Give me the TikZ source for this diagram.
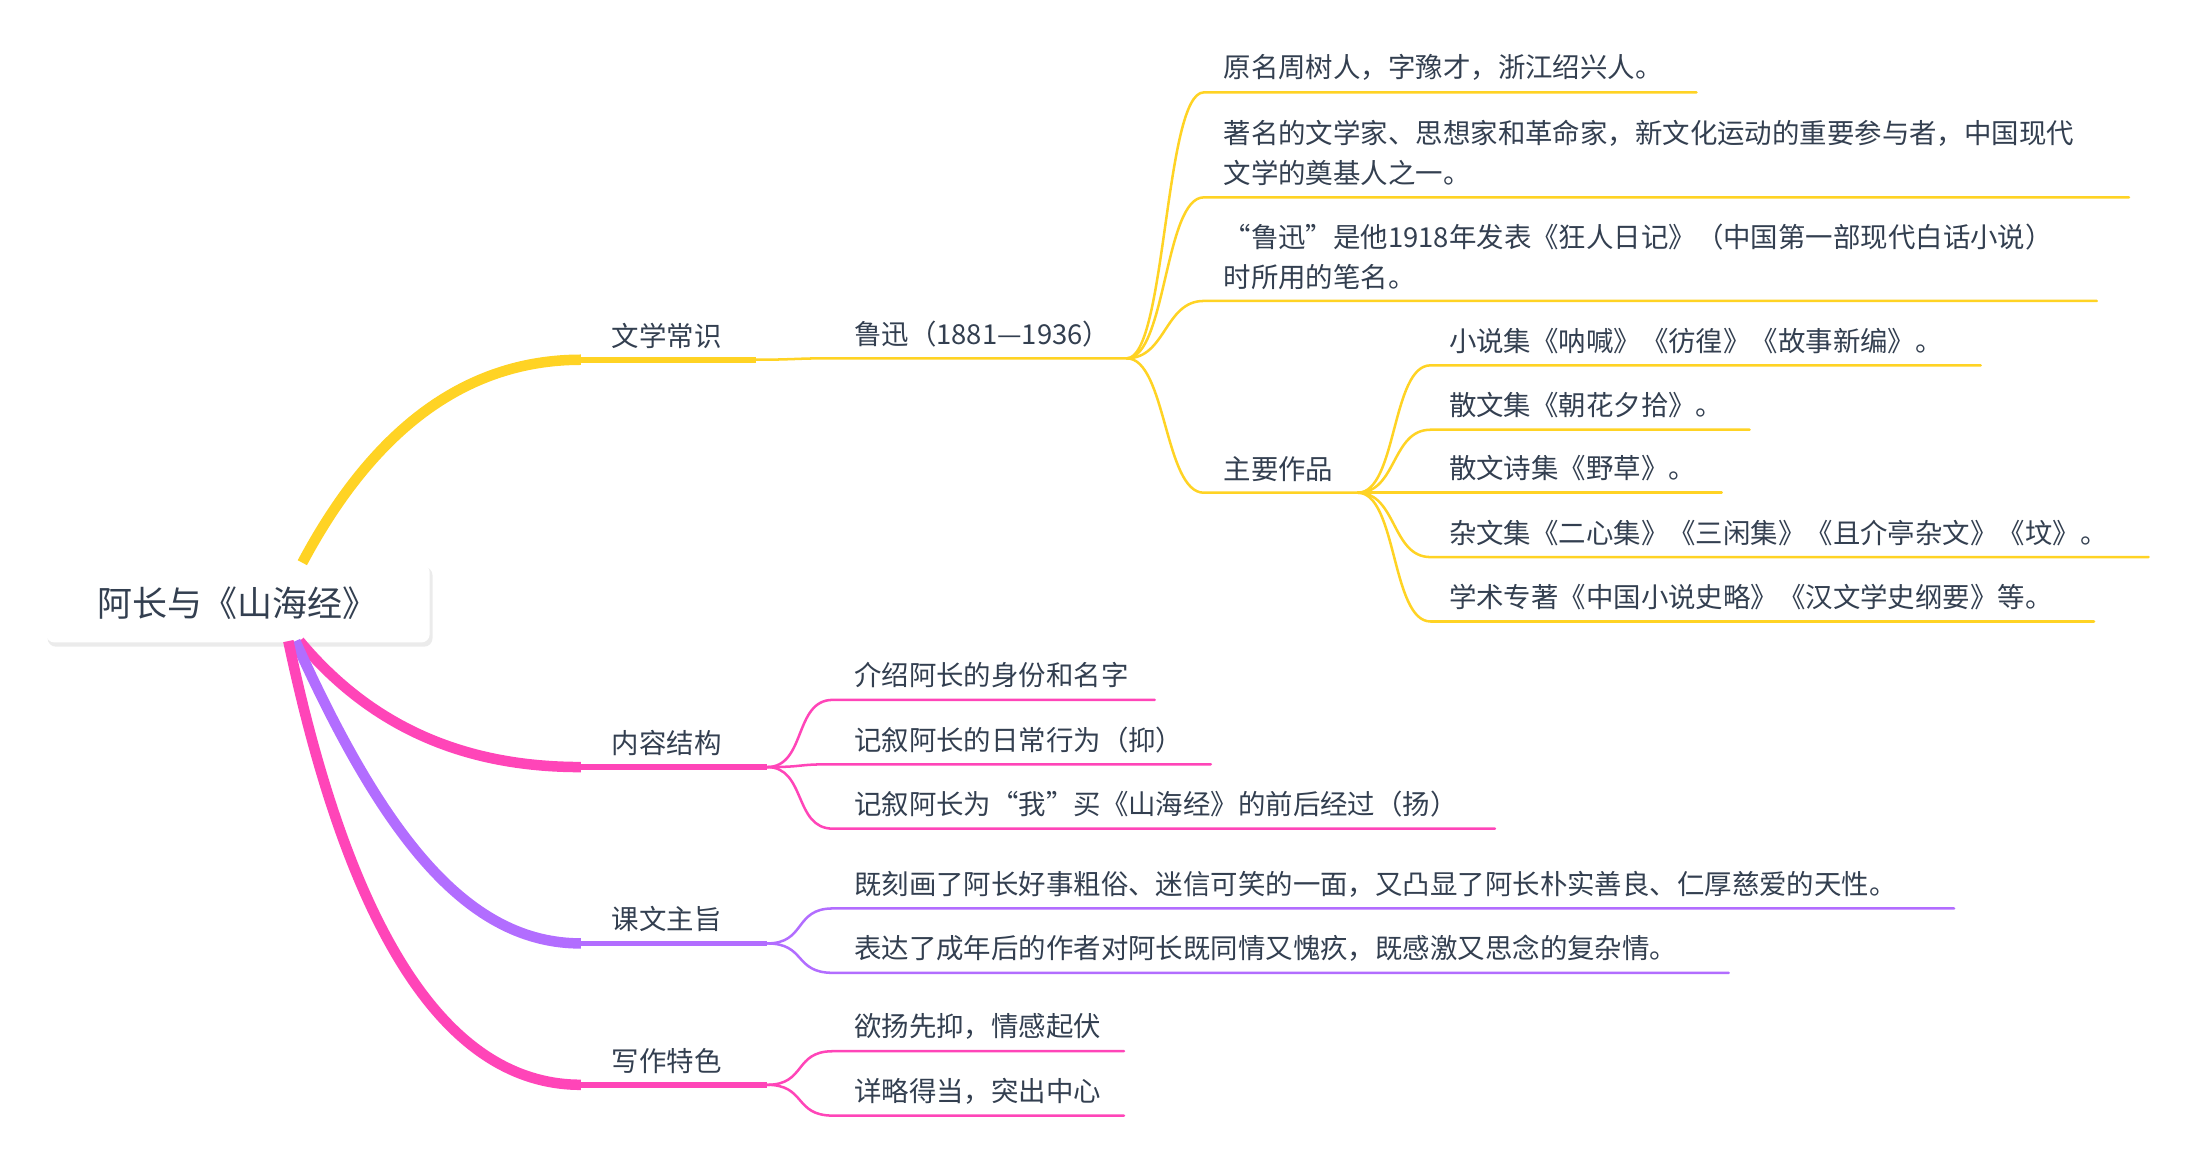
\documentclass[tikz,border=0pt]{standalone}
\usepackage{fontspec}
\setmainfont{Noto Sans CJK SC}
\usetikzlibrary{calc}
\begin{document}
\begin{tikzpicture}[x=1pt,y=-1pt,
  txt/.style={anchor=south west,inner sep=0pt,text=textc,font=\fontsize{19.6}{28.5}\selectfont},
  thin/.style={line width=1.8pt,line cap=round},
  mid/.style={line width=4pt},
  thick/.style={line width=7.5pt},
  conn/.style={thin}]
\definecolor{yel}{HTML}{FFD324}
\definecolor{pnk}{HTML}{FF45B8}
\definecolor{pur}{HTML}{B26DFF}
\definecolor{textc}{HTML}{333F50}
\useasboundingbox (0,0) rectangle (1561,827);
% root
\fill[black!8,rounded corners=6pt] (34,405) rectangle (309,462);
\node[draw=none,fill=white,rounded corners=6pt,minimum width=274pt,minimum height=56pt,inner sep=0pt,text=textc,font=\fontsize{25}{30}\selectfont] (root) at (170,431) {阿长与《山海经》};
% main branches
\coordinate (r1) at (216,402);
\coordinate (r2) at (214,458);
\coordinate (r3) at (211,458);
\coordinate (r4) at (206,458);
\coordinate (b1) at (415,257); \coordinate (b1e) at (540,257);
\coordinate (b2) at (415,548); \coordinate (b2e) at (548,548);
\coordinate (b3) at (415,674); \coordinate (b3e) at (548,674);
\coordinate (b4) at (415,775); \coordinate (b4e) at (548,775);
\draw[yel,thick] (r1) .. controls (265,310) and (330,257) .. (b1);
\draw[pnk,thick] (r2) .. controls (270,525) and (340,548) .. (b2);
\draw[pur,thick] (r3) .. controls (275,600) and (335,674) .. (b3);
\draw[pnk,thick] (r4) .. controls (255,690) and (330,775) .. (b4);
\draw[yel,mid] (b1) -- (b1e);
\draw[pnk,mid] (b2) -- (b2e);
\draw[pur,mid] (b3) -- (b3e);
\draw[pnk,mid] (b4) -- (b4e);
\node[txt] (t1) at (437,249) {文学常识};
\node[txt] (t2) at (437,540) {内容结构};
\node[txt] (t3) at (437,666) {课文主旨};
\node[txt] (t4) at (437,767) {写作特色};
% Lu Xun
\coordinate (lx) at (590,256); \coordinate (lxe) at (805,256);
\draw[yel,thin] (b1e) .. controls (565,257) and (570,256) .. (lx) -- (lxe);
\node[txt] (tlx) at (610,248) {鲁迅（1881—1936）};
% leaves helper
\newcommand\leafline[6]{% name, color, fromcoord, x1, x2, y
  \coordinate (#1s) at (#4,#6); \coordinate (#1e) at (#5,#6);
  \draw[#2,thin] (#3) .. controls ($(#3)+(28,0)$) and ($(#1s)+(-28,0)$) .. (#1s) -- (#1e);}
\leafline{a}{yel}{lxe}{860}{1212}{66}
\leafline{b}{yel}{lxe}{860}{1521}{141}
\leafline{c}{yel}{lxe}{860}{1498}{215}
\leafline{d}{yel}{lxe}{860}{970}{352}
\node[txt] (ta) at (874,58) {原名周树人，字豫才，浙江绍兴人。};
\node[txt,align=left] (tb) at (874,133) {著名的文学家、思想家和革命家，新文化运动的重要参与者，中国现代\\文学的奠基人之一。};
\node[txt,align=left] (tc) at (874,207) {“鲁迅”是他1918年发表《狂人日记》（中国第一部现代白话小说）\\时所用的笔名。};
\node[txt] (td) at (874,344) {主要作品};
\leafline{d1}{yel}{de}{1022}{1415}{261}
\leafline{d2}{yel}{de}{1022}{1250}{307}
\leafline{d3}{yel}{de}{1022}{1230}{352}
\leafline{d4}{yel}{de}{1022}{1535}{398}
\leafline{d5}{yel}{de}{1022}{1496}{444}
\node[txt] (td1) at (1035,253) {小说集《呐喊》《彷徨》《故事新编》。};
\node[txt] (td2) at (1035,299) {散文集《朝花夕拾》。};
\node[txt] (td3) at (1035,344) {散文诗集《野草》。};
\node[txt] (td4) at (1035,390) {杂文集《二心集》《三闲集》《且介亭杂文》《坟》。};
\node[txt] (td5) at (1035,436) {学术专著《中国小说史略》《汉文学史纲要》等。};
% content
\leafline{e1}{pnk}{b2e}{595}{825}{500}
\leafline{e2}{pnk}{b2e}{595}{865}{546}
\leafline{e3}{pnk}{b2e}{595}{1068}{592}
\node[txt] (te1) at (610,492) {介绍阿长的身份和名字};
\node[txt] (te2) at (610,538) {记叙阿长的日常行为（抑）};
\node[txt] (te3) at (610,584) {记叙阿长为“我”买《山海经》的前后经过（扬）};
\leafline{f1}{pur}{b3e}{595}{1396}{649}
\leafline{f2}{pur}{b3e}{595}{1235}{695}
\node[txt] (tf1) at (610,641) {既刻画了阿长好事粗俗、迷信可笑的一面，又凸显了阿长朴实善良、仁厚慈爱的天性。};
\node[txt] (tf2) at (610,687) {表达了成年后的作者对阿长既同情又愧疚，既感激又思念的复杂情。};
\leafline{g1}{pnk}{b4e}{595}{803}{751}
\leafline{g2}{pnk}{b4e}{595}{803}{797}
\node[txt] (tg1) at (610,743) {欲扬先抑，情感起伏};
\node[txt] (tg2) at (610,789) {详略得当，突出中心};
\end{tikzpicture}
\end{document}
